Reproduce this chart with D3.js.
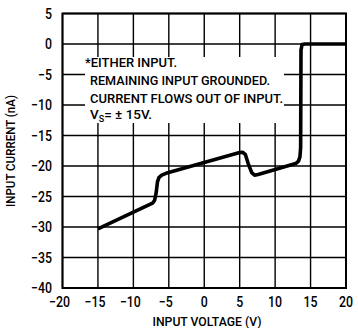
<!DOCTYPE html>
<html><head><meta charset="utf-8">
<script src="https://cdn.jsdelivr.net/npm/d3@7"></script>
<style>
html,body{margin:0;padding:0;background:#fff;}
svg{display:block;}
text{font-family:Roboto,"Liberation Sans",sans-serif;font-weight:500;fill:#000;}
</style></head>
<body>
<svg id="c" width="358" height="328"></svg>
<script>
const xTicks = [-20, -15, -10, -5, 0, 5, 10, 15, 20];
const yTicks = [5, 0, -5, -10, -15, -20, -25, -30, -35, -40];
const curveV = [-15, -7.3, -7.0, -6.8, -6.6, -6.4, -6.0, -5.4, 5.0, 5.4, 5.8, 6.2, 6.7, 7.1, 7.6, 12.9, 13.3, 13.5, 13.6, 13.65, 13.8, 14.2, 20];
const curveI = [-30.3, -26.1, -25.6, -24.5, -22.6, -21.9, -21.5, -21.2, -17.8, -17.75, -18.1, -19.6, -21.1, -21.5, -21.4, -19.6, -19.2, -18.5, -17, -1, -0.1, 0, 0];
const noteLines = ["*EITHER INPUT.", "REMAINING INPUT GROUNDED.", "CURRENT FLOWS OUT OF INPUT."];
const xTitle = "INPUT VOLTAGE (V)";
const yTitle = "INPUT CURRENT (nA)";

const svg = d3.select("#c");
const x = d3.scaleLinear().domain([-20, 20]).range([62.5, 346]);
const y = d3.scaleLinear().domain([-40, 5]).range([288, 13.5]);
const fmt = d => d < 0 ? "\u2212" + Math.abs(d) : String(d);
const squeeze = (sel, k) => sel.each(function () {
  const w = this.getComputedTextLength();
  d3.select(this).attr("textLength", w * k).attr("lengthAdjust", "spacingAndGlyphs");
});

// grid
svg.append("g").selectAll("line").data(xTicks).join("line")
  .attr("x1", d => x(d)).attr("x2", d => x(d))
  .attr("y1", y(5)).attr("y2", y(-40))
  .attr("stroke", "#000").attr("stroke-width", 1.4);
svg.append("g").selectAll("line").data(yTicks).join("line")
  .attr("x1", x(-20)).attr("x2", x(20))
  .attr("y1", d => y(d)).attr("y2", d => y(d))
  .attr("stroke", "#000").attr("stroke-width", 1.4);

// white box behind note
svg.append("rect").attr("x", 85).attr("y", 57).attr("width", 199).attr("height", 66).attr("fill", "#fff");

// border
svg.append("rect").attr("x", x(-20)).attr("y", y(5))
  .attr("width", x(20) - x(-20)).attr("height", y(-40) - y(5))
  .attr("fill", "none").attr("stroke", "#000").attr("stroke-width", 2);

// curve
const line = d3.line().x(d => x(d[0])).y(d => y(d[1]));
svg.append("path").datum(curveV.map((v, i) => [v, curveI[i]]))
  .attr("d", line).attr("fill", "none").attr("stroke", "#000")
  .attr("stroke-width", 3.6).attr("stroke-linejoin", "round").attr("stroke-linecap", "butt");

// y tick labels
svg.append("g").selectAll("text").data(yTicks).join("text")
  .attr("x", 52).attr("y", d => y(d) + 5)
  .attr("text-anchor", "end").attr("font-size", 14.5)
  .text(fmt).call(squeeze, 0.85);
// x tick labels
svg.append("g").selectAll("text").data(xTicks).join("text")
  .attr("x", d => x(d) + (d < 0 ? -3 : 0)).attr("y", 307)
  .attr("text-anchor", "middle").attr("font-size", 14.5)
  .text(fmt).call(squeeze, 0.85);

// axis titles
svg.append("text").attr("x", 207).attr("y", 326).attr("text-anchor", "middle")
  .attr("font-size", 13).attr("textLength", 109).attr("lengthAdjust", "spacingAndGlyphs").text(xTitle);
svg.append("text").attr("transform", "translate(15,151) rotate(-90)").attr("text-anchor", "middle")
  .attr("font-size", 13).attr("textLength", 112).attr("lengthAdjust", "spacingAndGlyphs").text(yTitle);

// note
const noteX = [85, 90, 90];
const noteW = [92, 180, 193];
const noteY = [67, 85, 103];
svg.append("g").selectAll("text").data(noteLines).join("text")
  .attr("x", (d, i) => noteX[i]).attr("y", (d, i) => noteY[i])
  .attr("font-size", 13).attr("textLength", (d, i) => noteW[i]).attr("lengthAdjust", "spacingAndGlyphs")
  .text(d => d);
const vs = svg.append("text").attr("x", 90).attr("y", 119).attr("font-size", 13.5);
vs.append("tspan").text("V");
vs.append("tspan").attr("font-size", 9).attr("dy", 3).text("S");
vs.append("tspan").attr("dy", -3).text("= \u00B1 15V.");
vs.attr("textLength", 62).attr("lengthAdjust", "spacingAndGlyphs");
</script>
</body></html>
